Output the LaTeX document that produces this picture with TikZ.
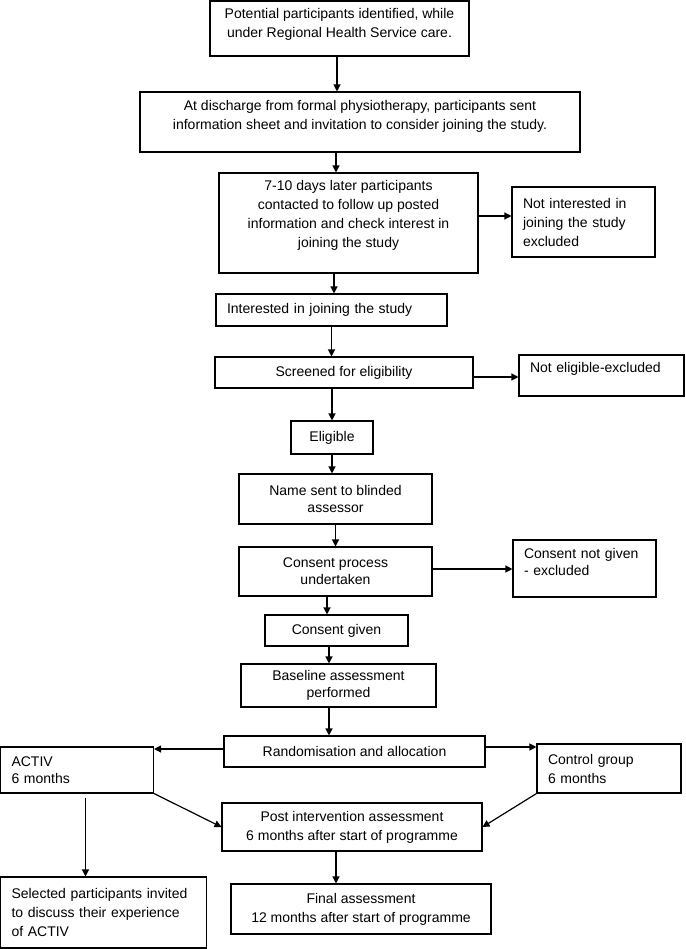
\documentclass[tikz,border=0pt]{standalone}
\usepackage{fontspec}
\setmainfont{Liberation Sans}
\usetikzlibrary{arrows.meta}

\begin{document}
\begin{tikzpicture}[x=1pt,y=-1pt,->,>={Triangle[length=7pt,width=7pt]},line width=1.2pt,
    box/.style={rectangle,draw,line width=1.1pt,font=\fontsize{14}{19}\selectfont,align=center,inner sep=0pt},
    left box/.style={box,align=left,inner xsep=11pt},
    tight/.style={font=\fontsize{14}{17}\selectfont}]

    \useasboundingbox (0,0) rectangle (685,949);

    \node[box, minimum width=259pt, minimum height=55pt, text depth=11pt] (ident) at (339.5,28.5) {Potential participants identified, while\\under Regional Health Service care.};
    \node[box, minimum width=440pt, minimum height=60pt, text depth=15pt] (discharge) at (360,122) {At discharge from formal physiotherapy, participants sent\\information sheet and invitation to consider joining the study.};
    \node[box, minimum width=259pt, minimum height=100pt, text depth=18pt] (contact) at (348.5,223) {7-10 days later participants\\contacted to follow up posted\\information and check interest in\\joining the study};
    \node[left box, text width=121pt, minimum height=70pt] (notint) at (583.5,222) {Not interested in\\joining the study\\excluded};
    \node[left box, text width=209pt, minimum height=32pt] (interest) at (331.5,310) {Interested in joining the study};
    \node[box, minimum width=258pt, minimum height=31pt] (screen) at (344,372.5) {Screened for eligibility};
    \node[left box, text width=143pt, minimum height=41pt, text depth=16pt] (noteli) at (601.5,375.5) {Not eligible-excluded};
    \node[box, minimum width=82pt, minimum height=33pt] (eligible) at (332,437.5) {Eligible};
    \node[box, tight, minimum width=193pt, minimum height=50pt] (assessor) at (335.5,499) {Name sent to blinded\\assessor};
    \node[box, tight, minimum width=193pt, minimum height=49pt] (consent) at (335.5,571.5) {Consent process\\undertaken};
    \node[left box, tight, text width=121pt, minimum height=57pt, text depth=31pt] (nocons) at (584.5,568.5) {Consent not given\\- excluded};
    \node[box, minimum width=143pt, minimum height=31pt] (given) at (336.5,630.5) {Consent given};
    \node[box, tight, minimum width=195pt, minimum height=43pt] (baseline) at (338.5,685.5) {Baseline assessment\\performed};
    \node[box, minimum width=261pt, minimum height=31pt] (random) at (354.5,751.5) {Randomisation and allocation};
    \node[left box, tight, text width=131pt, minimum height=46pt] (activ) at (77,770) {ACTIV\\6 months};
    \node[left box, text width=122pt, minimum height=49pt] (control) at (609,768.5) {Control group\\6 months};
    \node[box, minimum width=260pt, minimum height=48pt] (post) at (352,827) {Post intervention assessment\\6 months after start of programme};
    \node[left box, text width=184pt, minimum height=71pt] (selected) at (103.5,912.5) {Selected participants invited\\to discuss their experience\\of ACTIV};
    \node[box, minimum width=260pt, minimum height=50pt] (final) at (361,909) {Final assessment\\12 months after start of programme};

    \path
        ([xshift=-2.5pt]ident.south) edge ([xshift=-2.5pt]ident.south |- discharge.north)
        ([xshift=-12.5pt]contact.north |- discharge.south) edge ([xshift=-12.5pt]contact.north)
        ([yshift=7pt]contact.east) edge ([yshift=7pt]contact.east -| notint.west)
        ([xshift=-14.5pt]contact.south) edge ([xshift=-14.5pt]contact.south |- interest.north)
        (interest.south) edge (interest.south |- screen.north)
        ([yshift=-4.5pt]screen.east) edge ([yshift=-4.5pt]screen.east -| noteli.west)
        (eligible.north |- screen.south) edge (eligible.north)
        (eligible.south) edge (eligible.south |- assessor.north)
        (assessor.south) edge (consent.north)
        ([yshift=2.5pt]consent.east) edge ([yshift=2.5pt]consent.east -| nocons.west)
        ([xshift=-8.5pt]consent.south) edge ([xshift=-8.5pt]consent.south |- given.north)
        ([xshift=-7.5pt]given.south) edge ([xshift=-7.5pt]given.south |- baseline.north)
        ([xshift=-9.5pt]baseline.south) edge ([xshift=-9.5pt]baseline.south |- random.north)
        ([yshift=2.5pt]random.west) edge ([yshift=2.5pt]random.west -| activ.east)
        ([yshift=4.5pt]random.east) edge ([yshift=4.5pt]random.east -| control.west)
        (activ.south east) edge (post.west)
        (control.south west) edge (post.east)
        ([xshift=8.5pt]activ.south) edge[shorten <=4pt] ([xshift=8.5pt]activ.south |- selected.north)
        ([xshift=-16pt]post.south) edge ([xshift=-16pt]post.south |- final.north)
    ;
\end{tikzpicture}
\end{document}
